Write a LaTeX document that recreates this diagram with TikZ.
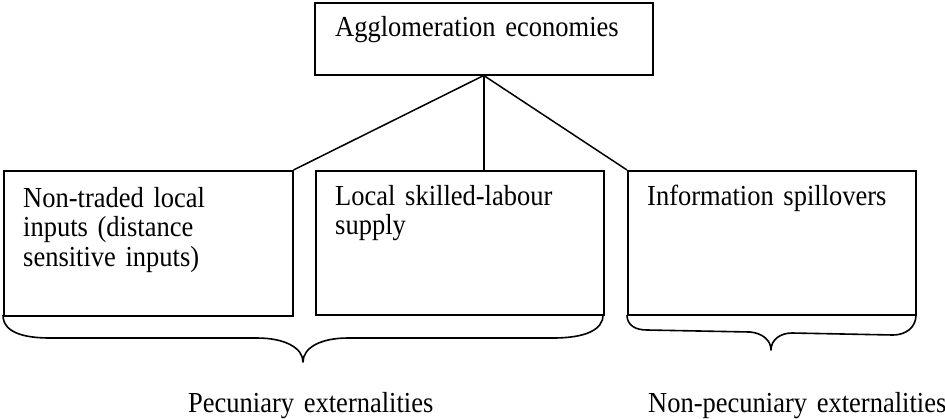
\documentclass[tikz,border=0pt]{standalone}
\usepackage{fontspec}
\setmainfont{Liberation Serif}[FakeStretch=0.914]
\begin{document}
\begin{tikzpicture}[x=1pt,y=-1pt,
  boxst/.style={draw, line width=1.5pt, inner sep=0pt, anchor=north west},
  txt/.style={anchor=base west, inner sep=0pt, align=left, text width=#1,
    font=\fontsize{29}{29.5}\selectfont},
  link/.style={line width=1.5pt},
  brace/.style={line width=1.6pt, line join=round}]
\useasboundingbox (0,0) rectangle (945,418);
% boxes
\node[boxst, minimum width=338pt, minimum height=72pt] (top) at (314,2) {};
\node[boxst, minimum width=289pt, minimum height=145pt] (b1) at (3,170) {};
\node[boxst, minimum width=288pt, minimum height=144pt] (b2) at (315,170) {};
\node[boxst, minimum width=288pt, minimum height=144pt] (b3) at (627,170) {};
% texts
\node[txt=320pt] (ttop) at (335,36) {Agglomeration economies};
\node[txt=265pt] (t1) at (23,207) {Non-traded local\\inputs (distance\\sensitive inputs)};
\node[txt=265pt] (t2) at (335,205) {Local skilled-labour\\supply};
\node[txt=265pt] (t3) at (647,205) {Information spillovers};
% connectors
\draw[link] (top.south) -- (b1.north east);
\draw[link] (top.south) -- (top.south |- b2.north);
\draw[link] (top.south) -- (b3.north west);
% braces
\draw[brace] (3,315) .. controls (3,333) and (25,338) .. (50,338) -- (257,338)
  .. controls (285,338) and (303,348) .. (303,362)
  .. controls (303,348) and (320,338) .. (348,338) -- (553,338)
  .. controls (585,338) and (603,330) .. (603,315);
\draw[brace] (627,315) .. controls (627,325) and (635,330) .. (647,330) -- (750,332)
  .. controls (762,333) and (771,340) .. (771,350)
  .. controls (771,340) and (780,333) .. (792,333) -- (893,335)
  .. controls (905,335) and (916,328) .. (916,315);
% labels
\node[txt=260pt] (l1) at (188,412) {Pecuniary externalities};
\node[txt=300pt] (l2) at (648,412) {Non-pecuniary externalities};
\end{tikzpicture}
\end{document}
